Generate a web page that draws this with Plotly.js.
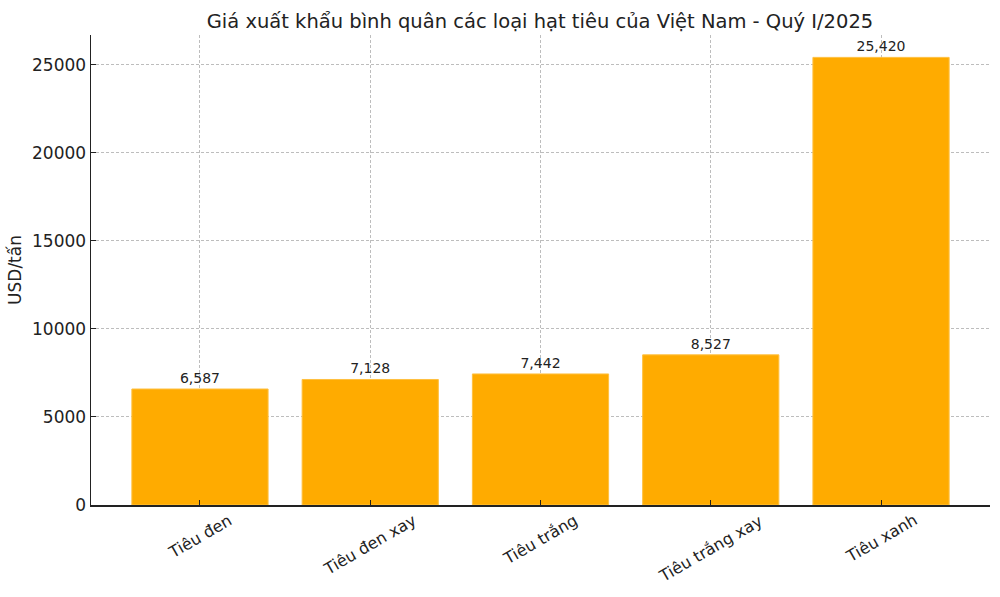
<!DOCTYPE html>
<html>
<head>
<meta charset="utf-8">
<script src="https://cdn.plot.ly/plotly-3.0.1.min.js"></script>
<style>
  html, body { margin: 0; padding: 0; background: #fff; }
  #chart { width: 1000px; height: 597px; }
</style>
</head>
<body>
<div id="chart"></div>
<script>
// Giá xuất khẩu bình quân (USD/tấn), Quý I/2025
var categories = ['Tiêu đen', 'Tiêu đen xay', 'Tiêu trắng', 'Tiêu trắng xay', 'Tiêu xanh'];
var prices = [6587, 7128, 7442, 8527, 25420];
var yTicks = [0, 5000, 10000, 15000, 20000, 25000];

var barColor = '#ffab00';
var font = 'DejaVu Sans, Verdana, sans-serif';
var positions = categories.map(function (c, i) { return i; });

var trace = {
	type: 'bar',
	x: positions,
	y: prices,
	width: 0.8,
	marker: {color: barColor, line: {color: '#ffc040', width: 1}},
	texttemplate: '%{y:,}',
	textposition: 'outside',
	constraintext: 'none',
	textfont: {family: font, size: 14, color: '#222'},
	cliponaxis: false,
	hoverinfo: 'skip'
};

// matplotlib-style centred, rotated category labels
var labelNotes = categories.map(function (c, i) {
	return {
		text: c, x: i, xref: 'x', y: 0, yref: 'paper',
		xanchor: 'center', yanchor: 'top', yshift: -3,
		textangle: -30, showarrow: false,
		font: {size: 16, family: font, color: '#222'}
	};
});

var layout = {
	width: 1000,
	height: 597,
	margin: {l: 91, r: 10, t: 35, b: 92},
	paper_bgcolor: '#fff',
	plot_bgcolor: '#fff',
	font: {family: font, color: '#222'},
	showlegend: false,
	title: {
		text: 'Giá xuất khẩu bình quân các loại hạt tiêu của Việt Nam - Quý I/2025',
		font: {size: 19.5, family: font, color: '#222'},
		x: 0.54, xanchor: 'center',
		y: 0.965, yanchor: 'middle'
	},
	xaxis: {
		range: [-0.64, 4.64],
		tickvals: positions,
		showticklabels: false,
		ticks: 'inside', ticklen: 5, tickcolor: '#222', tickwidth: 1,
		showline: true, linecolor: '#222', linewidth: 1.5,
		showgrid: true, gridcolor: '#bdbdbd', griddash: '3px,2px', gridwidth: 1,
		zeroline: false
	},
	yaxis: {
		range: [0, 26691],
		tickvals: yTicks,
		ticktext: yTicks.map(String),
		tickfont: {size: 17, family: font, color: '#222'},
		ticks: 'inside', ticklen: 5, tickcolor: '#222', tickwidth: 1,
		showline: true, linecolor: '#222', linewidth: 1.5,
		showgrid: true, gridcolor: '#bdbdbd', griddash: '3px,2px', gridwidth: 1,
		zeroline: false,
		title: {text: 'USD/tấn', font: {size: 17, family: font, color: '#222'}, standoff: 6}
	},
	annotations: labelNotes
};

Plotly.newPlot('chart', [trace], layout, {staticPlot: true, displaylogo: false});
</script>
</body>
</html>
